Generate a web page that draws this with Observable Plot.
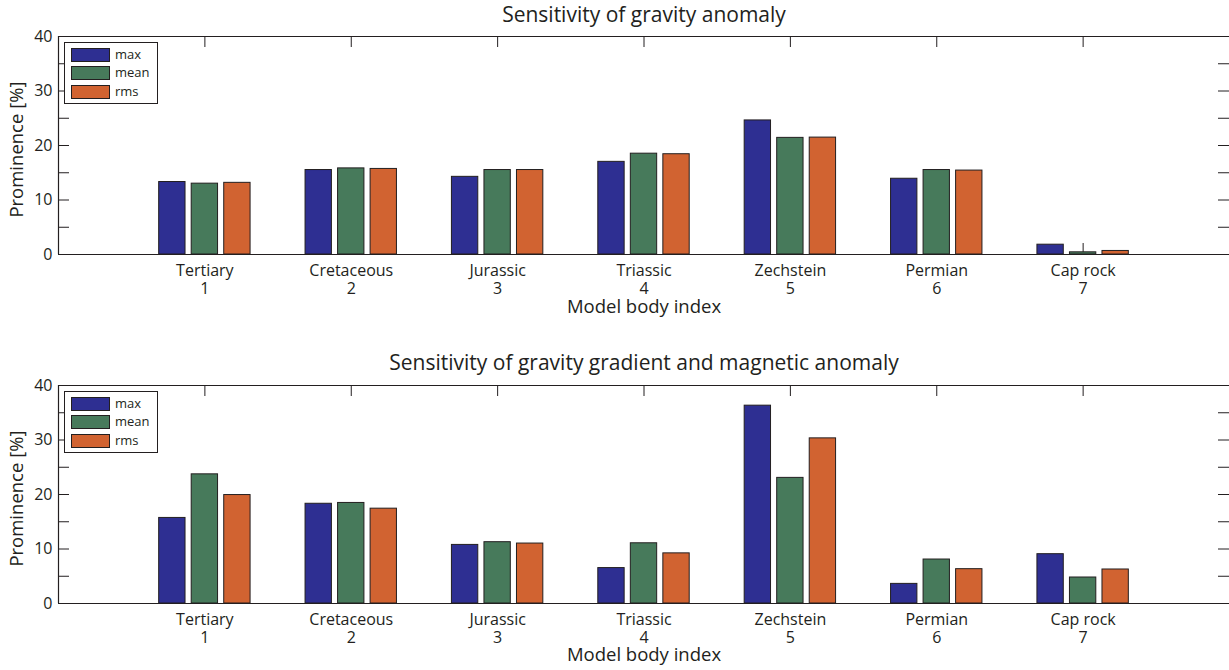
<!DOCTYPE html>
<html><head><meta charset="utf-8">
<script src="https://cdn.jsdelivr.net/npm/d3@7"></script>
<script src="https://cdn.jsdelivr.net/npm/@observablehq/plot@0.6"></script>
<style>
body{margin:0;background:#fff;font-family:"Open Sans",sans-serif;color:#231f20}
#root{position:relative;width:1229px;height:670px;overflow:hidden;background:#fff}
.panel{position:absolute;left:0}
.panel svg{display:block}
.legend{position:absolute;left:64px;width:92px;height:60px;border:1px solid #231f20;background:#fff}
.legend .row{position:absolute;left:6px;height:14px}
.legend .sw{position:absolute;left:0;top:0;width:37px;height:12px;border:1px solid #231f20}
.legend .lb{position:absolute;left:44px;top:-2px;font-size:13px;line-height:16px;white-space:nowrap}
</style></head>
<body><div id="root"></div>
<script>
const categories = ["Tertiary", "Cretaceous", "Jurassic", "Triassic", "Zechstein", "Permian", "Cap rock"];
const bodyIndex = [1, 2, 3, 4, 5, 6, 7];
const seriesNames = ["max", "mean", "rms"];
const seriesColors = ["#2e2f92", "#477a5b", "#d16331"];
const yTicks = [0, 10, 20, 30, 40];
const yMinorTicks = [0, 5, 10, 15, 20, 25, 30, 35, 40];

const gravityMax  = [13.3, 15.5, 14.25, 17.0, 24.6, 13.9, 1.8];
const gravityMean = [13.0, 15.8, 15.5, 18.5, 21.4, 15.5, 0.4];
const gravityRms  = [13.15, 15.7, 15.5, 18.4, 21.45, 15.4, 0.65];

const gradMagMax  = [15.7, 18.3, 10.75, 6.5, 36.3, 3.6, 9.05];
const gradMagMean = [23.7, 18.45, 11.25, 11.05, 23.05, 8.07, 4.77];
const gradMagRms  = [19.9, 17.4, 11.0, 9.2, 30.3, 6.3, 6.24];

const ink = "#231f20";
const groupStep = 0.2222, barWidth = 0.18;

function table(cols) {
  return bodyIndex.flatMap((b, i) => seriesNames.map((s, j) => ({body: b, category: categories[i], series: s, j, value: cols[j][i]})));
}

function panel({title, rows, height, marginTop, marginBottom, titleDy, labelDy}) {
  const frameW = 1229 - 58, frameH = height - marginTop - marginBottom;
  return Plot.plot({
    width: 1229, height, marginLeft: 58, marginRight: 0, marginTop, marginBottom,
    style: {fontFamily: "'Open Sans', sans-serif", color: ink, background: "transparent", overflow: "visible"},
    x: {domain: [0, 8]},
    y: {domain: [0, 40]},
    color: {domain: seriesNames, range: seriesColors},
    marks: [
      Plot.tickX(bodyIndex, {x: d => d, stroke: ink, insetTop: frameH - 11}),
      Plot.tickX(bodyIndex, {x: d => d, stroke: ink, insetBottom: frameH - 11}),
      Plot.tickY(yMinorTicks, {y: d => d, stroke: ink, insetRight: frameW - 11}),
      Plot.tickY(yMinorTicks, {y: d => d, stroke: ink, insetLeft: frameW - 11}),
      Plot.rectY(rows, {
        x1: d => d.body + (d.j - 1) * groupStep - barWidth / 2,
        x2: d => d.body + (d.j - 1) * groupStep + barWidth / 2,
        y1: 0, y2: "value", fill: "series", stroke: ink, strokeWidth: 1
      }),
      Plot.ruleX([0], {stroke: ink, strokeWidth: 1.2}),
      Plot.ruleY([0, 40], {stroke: ink, strokeWidth: 1.2}),
      Plot.axisX({ticks: bodyIndex, tickSize: 0, tickPadding: 9, tickFormat: i => categories[i - 1] + "\n" + i, fontSize: 16, lineHeight: 1.1, label: null, fill: ink}),
      Plot.axisY({ticks: yTicks, tickSize: 0, tickPadding: 6, fontSize: 16, label: null, fill: ink}),
      Plot.text(["Model body index"], {frameAnchor: "bottom", lineAnchor: "middle", textAnchor: "middle", dy: labelDy, fontSize: 18.5, fill: ink}),
      Plot.text(["Prominence [%]"], {frameAnchor: "left", lineAnchor: "middle", textAnchor: "middle", dx: -41, dy: 4, rotate: -90, fontSize: 18.5, fill: ink}),
      Plot.text([title], {frameAnchor: "top", lineAnchor: "middle", textAnchor: "middle", dy: titleDy, fontSize: 21, fill: ink})
    ]
  });
}

function legend(top) {
  const box = document.createElement("div");
  box.className = "legend";
  box.style.top = top + "px";
  seriesNames.forEach((s, j) => {
    const row = document.createElement("div");
    row.className = "row";
    row.style.top = (4.5 + j * 18.7) + "px";
    const sw = document.createElement("div");
    sw.className = "sw";
    sw.style.background = seriesColors[j];
    const lb = document.createElement("div");
    lb.className = "lb";
    lb.textContent = s;
    row.append(sw, lb);
    box.append(row);
  });
  return box;
}

const root = document.getElementById("root");
const specs = [
  {title: "Sensitivity of gravity anomaly", rows: table([gravityMax, gravityMean, gravityRms]), top: 0, height: 340, marginTop: 36, marginBottom: 86, titleDy: -21, labelDy: 53},
  {title: "Sensitivity of gravity gradient and magnetic anomaly", rows: table([gradMagMax, gradMagMean, gradMagRms]), top: 340, height: 330, marginTop: 45, marginBottom: 67, titleDy: -22, labelDy: 52}
];
for (const s of specs) {
  const wrap = document.createElement("div");
  wrap.className = "panel";
  wrap.style.top = s.top + "px";
  wrap.append(panel(s));
  root.append(wrap);
  root.append(legend(s.top + s.marginTop + 6));
}
</script>
</body></html>
